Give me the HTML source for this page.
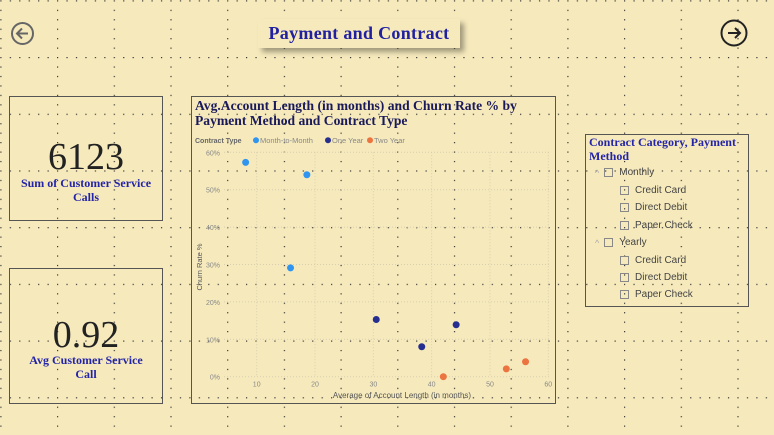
<!DOCTYPE html>
<html><head><meta charset="utf-8"><style>
body{margin:0;width:774px;height:435px;overflow:hidden;background:#f6eabd;font-family:"Liberation Sans",sans-serif;position:relative}
.abs{position:absolute}
.box{position:absolute;border:1.5px solid #555;box-sizing:border-box}
.ser{font-family:"Liberation Serif",serif}
.kpi-num{position:absolute;left:0;right:0;text-align:center;font-family:"Liberation Serif",serif;font-size:38px;color:#222}
.kpi-lab{position:absolute;left:0;right:0;text-align:center;font-family:"Liberation Serif",serif;font-weight:bold;font-size:12px;color:#2424a8;line-height:14px}
.sl{position:absolute;font-size:10px;color:#444;display:flex;align-items:center}
.cb{width:9px;height:9px;border:1px solid #888;margin-right:6px;box-sizing:border-box}
</style></head><body>
<svg class="abs" style="left:0;top:0" width="774" height="435">
<defs><pattern id="g" width="56.7" height="56.7" patternUnits="userSpaceOnUse" x="0.3" y="0.3">
<g fill="#333">
<rect x="0" y="0" width="1.2" height="1.2"/><rect x="9.45" y="0" width="1.2" height="1.2"/><rect x="18.9" y="0" width="1.2" height="1.2"/><rect x="28.35" y="0" width="1.2" height="1.2"/><rect x="37.8" y="0" width="1.2" height="1.2"/><rect x="47.25" y="0" width="1.2" height="1.2"/>
<rect x="0" y="9.45" width="1.2" height="1.2"/><rect x="0" y="18.9" width="1.2" height="1.2"/><rect x="0" y="28.35" width="1.2" height="1.2"/><rect x="0" y="37.8" width="1.2" height="1.2"/><rect x="0" y="47.25" width="1.2" height="1.2"/>
</g></pattern></defs>
<rect width="774" height="435" fill="url(#g)"/>
</svg>

<svg class="abs" style="left:10px;top:21px" width="25" height="25"><circle cx="12.5" cy="12.5" r="10.5" fill="none" stroke="#666" stroke-width="2"/><path d="M18 12.5H7M12 7.5l-5 5 5 5" fill="none" stroke="#666" stroke-width="2"/></svg>
<svg class="abs" style="left:720px;top:19px" width="28" height="28"><circle cx="14" cy="14" r="12.5" fill="none" stroke="#222" stroke-width="2"/><path d="M8 14h12M15 9l5 5-5 5" fill="none" stroke="#222" stroke-width="2"/></svg>

<div class="abs ser" style="left:258px;top:19px;width:202px;height:29px;background:#f6eabd;box-shadow:4px 4px 5px rgba(0,0,0,0.35);font-weight:bold;font-size:18px;color:#2020a0;text-align:center;line-height:28px;letter-spacing:0.3px">Payment and Contract</div>

<div class="box" style="left:9px;top:96px;width:154px;height:125px">
<div class="kpi-num" style="top:38px">6123</div>
<div class="kpi-lab" style="top:79px">Sum of Customer Service<br>Calls</div></div>
<div class="box" style="left:9px;top:268px;width:154px;height:136px">
<div class="kpi-num" style="top:44px">0.92</div>
<div class="kpi-lab" style="top:84px">Avg Customer Service<br>Call</div></div>

<div class="box" style="left:191px;top:96px;width:365px;height:308px">
<div class="abs ser" style="left:3px;top:1px;font-weight:bold;font-size:13.6px;line-height:15px;color:#1a1a5a">Avg.Account Length (in months) and Churn Rate % by<br>Payment Method and Contract Type</div>
</div>
<svg id="chart" class="abs" style="left:191px;top:96px" width="365" height="308"></svg>

<div class="box" style="left:585px;top:134px;width:164px;height:173px">
<div class="abs ser" style="left:3px;top:0px;font-weight:bold;font-size:12px;line-height:14px;color:#2424a8">Contract Category, Payment<br>Method</div>
</div>
<div class="sl" style="left:595px;top:167px"><span style="color:#aaa;font-size:9px;margin-right:5px">^</span><span class="cb"></span>Monthly</div>
<div class="sl" style="left:620px;top:185px"><span class="cb"></span>Credit Card</div>
<div class="sl" style="left:620px;top:202px"><span class="cb"></span>Direct Debit</div>
<div class="sl" style="left:620px;top:220px"><span class="cb"></span>Paper Check</div>
<div class="sl" style="left:595px;top:237px"><span style="color:#aaa;font-size:9px;margin-right:5px">^</span><span class="cb"></span>Yearly</div>
<div class="sl" style="left:620px;top:255px"><span class="cb"></span>Credit Card</div>
<div class="sl" style="left:620px;top:272px"><span class="cb"></span>Direct Debit</div>
<div class="sl" style="left:620px;top:289px"><span class="cb"></span>Paper Check</div>

<script>
const seriesNames=["Month-to-Month","One Year","Two Year"];
const seriesColors=["#2f95f0","#262f8f","#ec7440"];
const mtmX=[8.1,18.6,15.8];
const mtmY=[57.3,54.0,29.1];
const oneX=[30.5,38.3,44.2];
const oneY=[15.3,8.0,13.9];
const twoX=[42.0,52.8,56.1];
const twoY=[0,2.1,4.0];
const xTicks=[10,20,30,40,50,60];
const yTicks=[0,10,20,30,40,50,60];
const svg=document.getElementById('chart');
const NS='http://www.w3.org/2000/svg';
const X0=10,X1=60,px0=65.7,px1=357.3,Y0=0,Y1=60,py0=280.7,py1=56.3;
const sx=v=>px0+(v-X0)/(X1-X0)*(px1-px0);
const sy=v=>py0+(v-Y0)/(Y1-Y0)*(py1-py0);
function mk(t,a,txt){const e=document.createElementNS(NS,t);for(const k in a)e.setAttribute(k,a[k]);if(txt!==undefined)e.textContent=txt;svg.appendChild(e);return e;}
yTicks.forEach(v=>{
 const l=mk('line',{x1:33,x2:px1+2,y1:sy(v),y2:sy(v),stroke:'#d8ceb0','stroke-dasharray':'1 2'});
 
 
 const t=mk('text',{x:29,y:sy(v)+3,'font-size':7,fill:'#888','text-anchor':'end','font-family':'Liberation Sans'},v+'%');
 
 
});
xTicks.forEach(v=>{
 const l=mk('line',{x1:sx(v),x2:sx(v),y1:py1,y2:py0,stroke:'#d8ceb0','stroke-dasharray':'1 2'});
 
 
 const t=mk('text',{x:sx(v),y:py0+10,'font-size':7,fill:'#888','text-anchor':'middle','font-family':'Liberation Sans'},v);
 
 
});
const xt=mk('text',{x:211,y:302,'font-size':8,fill:'#555','text-anchor':'middle','font-family':'Liberation Sans'},'Average of Account Length (in months)');


const yt=mk('text',{x:0,y:0,'font-size':7.5,fill:'#555','text-anchor':'middle','font-family':'Liberation Sans',transform:'translate(11,171) rotate(-90)'},'Churn Rate %');


const lt=mk('text',{x:4,y:47,'font-size':7,'font-weight':'bold',fill:'#666','font-family':'Liberation Sans'},'Contract Type');


const legX=[65,137,179];
seriesNames.forEach((n,i)=>{
 const c=mk('circle',{cx:legX[i],cy:44.3,r:3,fill:seriesColors[i]});
 
 
 const t=mk('text',{x:legX[i]+4,y:47,'font-size':7.5,fill:'#888','font-family':'Liberation Sans'},n);
 
 
});
[[mtmX,mtmY],[oneX,oneY],[twoX,twoY]].forEach((s,i)=>{
 s[0].forEach((x,j)=>{
  const c=mk('circle',{cx:sx(x),cy:sy(s[1][j]),r:3.5,fill:seriesColors[i]});
  
  
 });
});
</script>
</body></html>
